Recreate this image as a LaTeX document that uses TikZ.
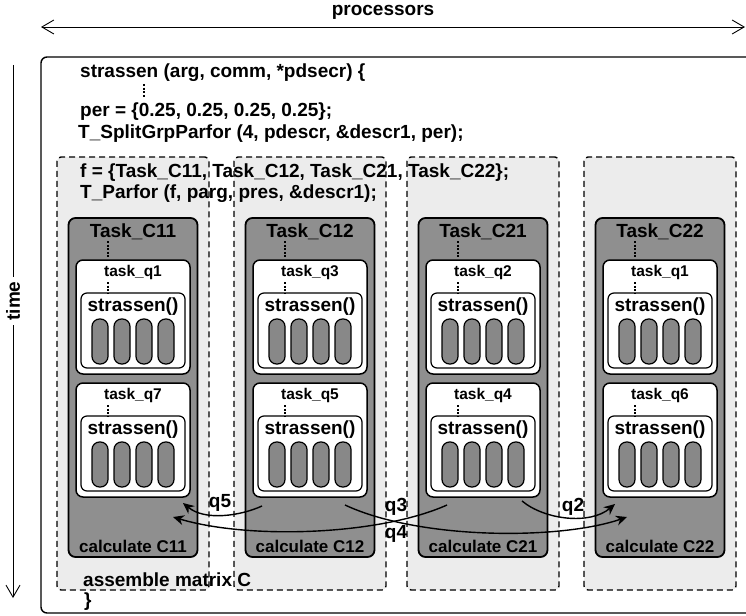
\documentclass[tikz,border=0pt]{standalone}
\usepackage{fontspec}
\setmainfont{Liberation Sans}
\usepackage{tikz}
\usetikzlibrary{arrows.meta,positioning}
\definecolor{GroupFill}{HTML}{ECECEC}
\definecolor{TaskFill}{HTML}{8F8F8F}
\definecolor{PillFill}{HTML}{888888}

\begin{document}
\begin{tikzpicture}[
    x=1pt, y=-1pt,
    font=\bfseries\fontsize{19}{22}\selectfont,
    grpbox/.style={rectangle, rounded corners=4pt, draw=black, line width=1.4pt, dash pattern=on 6pt off 4pt, fill=GroupFill, minimum width=152pt, minimum height=433pt},
    taskbox/.style={rectangle, rounded corners=7pt, draw=black, line width=1.8pt, fill=TaskFill, minimum width=129pt, minimum height=339pt},
    qbox/.style={rectangle, rounded corners=7pt, draw=black, line width=1.5pt, fill=white, minimum width=114pt, minimum height=114pt},
    sbox/.style={rectangle, rounded corners=6pt, draw=black, line width=1.2pt, fill=white, minimum width=104pt, minimum height=75pt},
    pill/.style={rectangle, rounded corners=7.5pt, draw=black, line width=1.2pt, fill=PillFill, minimum width=16pt, minimum height=45pt, inner sep=0pt},
    lbl/.style={inner sep=0pt},
    qlabel/.style={inner sep=0pt, font=\bfseries\fontsize{15.5}{18}\selectfont},
    clabel/.style={inner sep=0pt, font=\bfseries\fontsize{17}{20}\selectfont},
    vdots/.style={line width=2.4pt, dash pattern=on 2pt off 1.6pt},
    msg/.style={-{Stealth[length=11pt,width=10pt]}, line width=1.4pt},
    dimarrow/.style={line width=0.9pt},
    frame/.style={rounded corners=6pt, line width=1.4pt}
]
\useasboundingbox (0,0) rectangle (746,615);

% axes
\coordinate (pleft) at (41,27);
\coordinate (pright) at (745,27);
\draw[dimarrow, {Straight Barb[length=12pt,width=14pt]}-{Straight Barb[length=12pt,width=14pt]}] (pleft) -- (pright);
\node[lbl] (proc) at (383,12) {processors};
\coordinate (ttop) at (13,65);
\coordinate (tbot) at (13,598);
\draw[dimarrow, -{Straight Barb[length=12pt,width=14pt]}] (ttop) -- (tbot);
\node[lbl, fill=white, inner sep=4pt, rotate=90] (time) at (13,301) {time};

% outer function
\draw[frame] (760,57) -- (41,57) -- (41,613) -- (760,613);

% processor groups
\foreach \cx [count=\i] in {133,310,483,660}{
  \node[grpbox] (grp\i) at (\cx,373.5) {};
}

\node[lbl, anchor=west] (l1) at (80,73) {strassen (arg, comm, *pdsecr) \{};
\draw[vdots] (144,84) -- (144,98);
\node[lbl, anchor=west] (l2) at (80,112) {per = \{0.25, 0.25, 0.25, 0.25\};};
\node[lbl, anchor=west] (l3) at (78,134) {T\_SplitGrpParfor (4, pdescr, \&descr1, per);};
\node[lbl, anchor=west] (l4) at (80,173) {f = \{Task\_C11, Task\_C12, Task\_C21, Task\_C22\};};
\node[lbl, anchor=west] (l5) at (80,194) {T\_Parfor (f, parg, pres, \&descr1);};
\node[lbl, anchor=west] (l6) at (83,580) {assemble matrix C};
\node[lbl, anchor=west] (l7) at (84,602) {\}};

% tasks
\foreach \cx/\tname/\qa/\qb [count=\i] in {133/C11/1/7, 310/C12/3/5, 483/C21/2/4, 660/C22/1/6}{
  \node[taskbox] (task\i) at (\cx,387.5) {};
  \node[lbl, below=6pt of task\i.north] (tlab\i) {Task\_\tname};
  \node[clabel, above=5pt of task\i.south] (calc\i) {calculate \tname};
  \node[qbox] (wa\i) at (\cx,317) {};
  \node[qbox] (wb\i) at (\cx,440) {};
  \node[qlabel, below=6pt of wa\i.north] (qa\i) {task\_q\qa};
  \node[qlabel, below=6pt of wb\i.north] (qb\i) {task\_q\qb};
  \node[sbox] (sa\i) at (\cx,330.5) {};
  \node[sbox] (sb\i) at (\cx,453.5) {};
  \node[lbl, below=5pt of sa\i.north] (fa\i) {strassen()};
  \node[lbl, below=5pt of sb\i.north] (fb\i) {strassen()};
  \foreach \dx [count=\j] in {-33,-11,11,33}{
    \node[pill] (pa\i\j) at ({\cx+\dx},341.5) {};
    \node[pill] (pb\i\j) at ({\cx+\dx},464.5) {};
  }
  \draw[vdots] ({\cx-25},241) -- ({\cx-25},258);
  \draw[vdots] ({\cx-25},282) -- ({\cx-25},293);
  \draw[vdots] ({\cx-25},405) -- ({\cx-25},416);
}

% messages
\coordinate (s5) at (262,506);
\coordinate (e5) at (183,503);
\coordinate (s4) at (447,505);
\coordinate (e4) at (173,517);
\coordinate (s3) at (345,505);
\coordinate (e3) at (627,517);
\coordinate (s2) at (522,501);
\coordinate (e2) at (615,504);
\draw[msg] (s5) .. controls (240,516) and (205,521) .. (e5);
\draw[msg] (s4) .. controls (380,535) and (250,540) .. (e4);
\draw[msg] (s3) .. controls (420,540) and (560,540) .. (e3);
\draw[msg] (s2) .. controls (545,520) and (590,525) .. (e2);
\node[lbl] (m5) at (220,503) {q5};
\node[lbl] (m3) at (396,507) {q3};
\node[lbl] (m4) at (396,534) {q4};
\node[lbl] (m2) at (573,507) {q2};
\end{tikzpicture}
\end{document}
